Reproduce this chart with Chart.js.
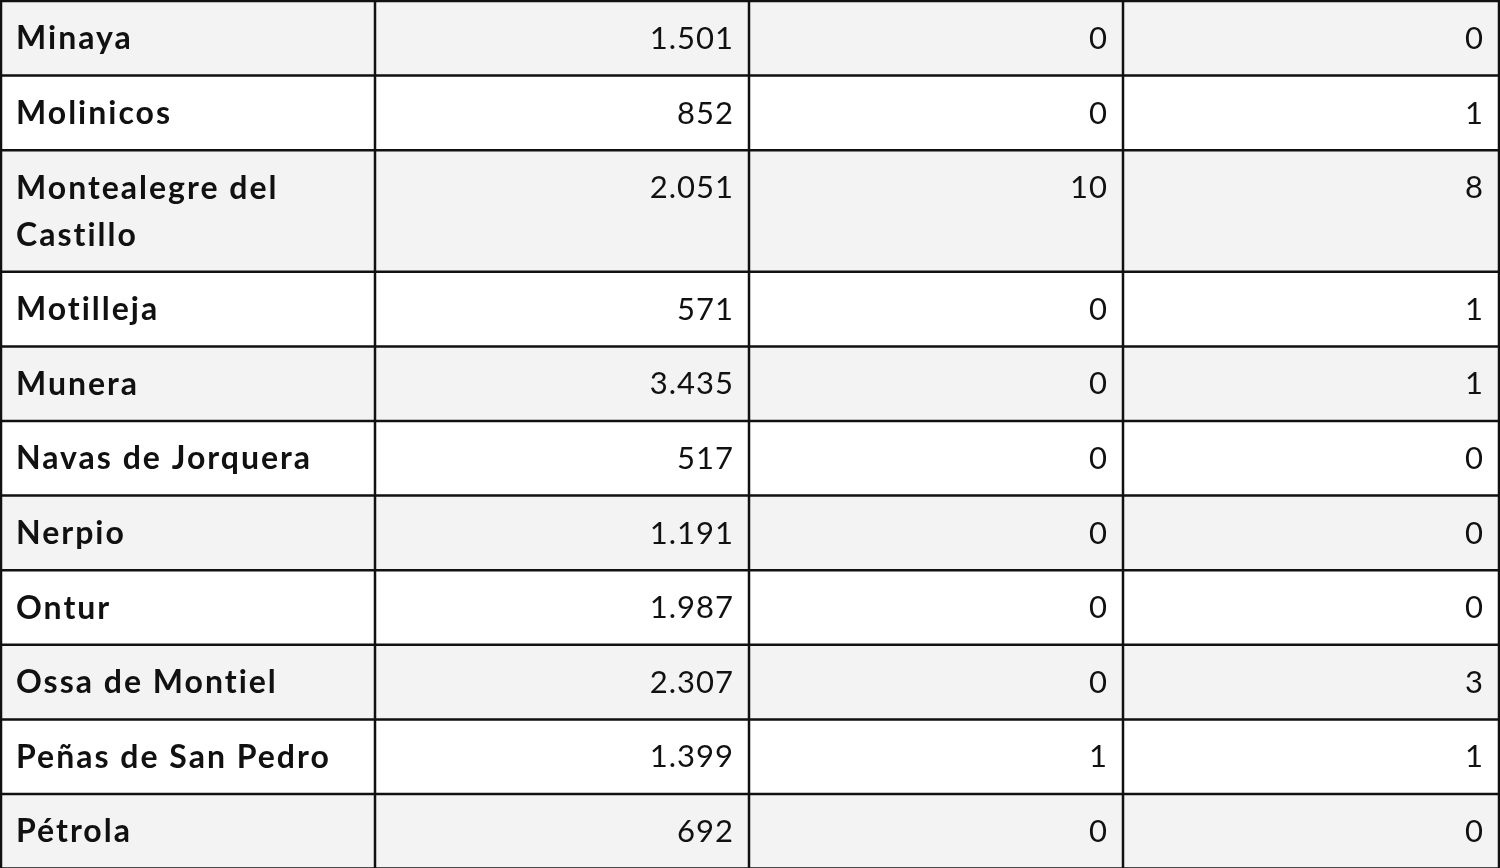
<!DOCTYPE html>
<html><head><meta charset="utf-8">
<script src="https://cdn.jsdelivr.net/npm/chart.js@4/dist/chart.umd.min.js"></script>
<style>html,body{margin:0;padding:0;background:#fff;overflow:hidden}</style>
</head><body>
<canvas id="c" width="1500" height="868"></canvas>
<script>
const municipios = ["Minaya","Molinicos","Montealegre del\nCastillo","Motilleja","Munera","Navas de Jorquera","Nerpio","Ontur","Ossa de Montiel","Peñas de San Pedro","Pétrola"];
const poblacion = ["1.501","852","2.051","571","3.435","517","1.191","1.987","2.307","1.399","692"];
const colB = [0,0,10,0,0,0,0,0,0,1,0];
const colC = [0,1,8,1,1,0,0,0,3,1,0];

const colX = [1,375,749,1123,1499];
const rowH = 74.6, lineH = 47;

const tablePlugin = {
  id:'table',
  afterDraw(chart){
    const ctx = chart.ctx;
    ctx.save();
    ctx.fillStyle='#fff'; ctx.fillRect(0,0,1500,868);
    let y = 1;
    const tops=[];
    municipios.forEach((m,i)=>{
      const lines = m.split('\n');
      const h = rowH + (lines.length-1)*lineH;
      tops.push(y);
      ctx.fillStyle = i%2===0 ? '#f3f3f3' : '#ffffff';
      ctx.fillRect(colX[0],y,colX[4]-colX[0],h);
      ctx.fillStyle='#111';
      ctx.textBaseline='middle';
      ctx.font='bold 32px Lato';
      ctx.letterSpacing='2px';
      ctx.textAlign='left';
      lines.forEach((l,k)=>ctx.fillText(l,16,y+38+k*lineH));
      ctx.font='31px Lato';
      ctx.letterSpacing='1px';
      ctx.textAlign='right';
      const vals=[poblacion[i],String(colB[i]),String(colC[i])];
      vals.forEach((v,k)=>ctx.fillText(v,colX[k+2]-15,y+38));
      y+=h;
    });
    tops.push(y);
    ctx.strokeStyle='#111'; ctx.lineWidth=2.5;
    ctx.beginPath();
    tops.forEach(t=>{ctx.moveTo(0,t);ctx.lineTo(1500,t);});
    colX.forEach(x=>{ctx.moveTo(x,0);ctx.lineTo(x,868);});
    ctx.stroke();
    ctx.restore();
  }
};

new Chart(document.getElementById('c'),{
  type:'bar',
  data:{labels:municipios,datasets:[{data:colB,hidden:true}]},
  options:{responsive:false,devicePixelRatio:1,animation:false,
    plugins:{legend:{display:false},tooltip:{enabled:false}},
    scales:{x:{display:false},y:{display:false}}},
  plugins:[tablePlugin]
});
</script>
</body></html>
